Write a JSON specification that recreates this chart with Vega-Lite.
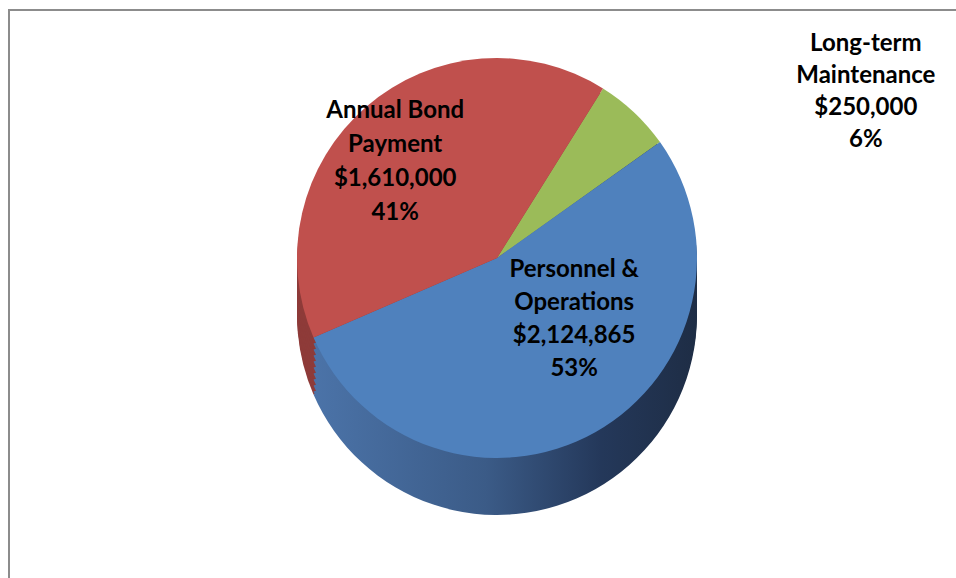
{
  "$schema": "https://vega.github.io/schema/vega-lite/v6.json",
  "width": 976,
  "height": 580,
  "autosize": {"type": "none"},
  "padding": {"left": 9, "top": 10, "right": 0, "bottom": 0},
  "background": "white",
  "config": {"view": {"stroke": null}},
  "datasets": {
    "budget": [
      {"category": "Long-term Maintenance", "amount": 250000, "order": 1, "label": "Long-term\nMaintenance\n$250,000\n6%"},
      {"category": "Personnel & Operations", "amount": 2124865, "order": 2, "label": "Personnel &\nOperations\n$2,124,865\n53%"},
      {"category": "Annual Bond Payment", "amount": 1610000, "order": 3, "label": "Annual Bond\nPayment\n$1,610,000\n41%"}
    ],
    "frame": [{"name": "chart area"}]
  },
  "layer": [
    {
      "data": {"name": "frame"},
      "mark": {"type": "rect", "fill": "white", "stroke": "#8c8c8c", "strokeWidth": 2},
      "encoding": {
        "x": {"value": 0},
        "x2": {"value": "width"},
        "y": {"value": 0},
        "y2": {"value": "height"}
      }
    },
    {
      "data": {"name": "budget"},
      "encoding": {
        "theta": {"field": "amount", "type": "quantitative", "stack": true, "scale": {"range": [0.5585, 6.8417]}},
        "order": {"field": "order", "type": "quantitative"}
      },
      "layer": [
        {"mark": {"type": "arc", "outerRadius": 200, "yOffset": 15}, "encoding": {"fill": {"condition": {"test": "datum.category === 'Annual Bond Payment'", "value": "#8e3b39"}, "value": {"gradient": "linear", "x1": 0, "y1": 0, "x2": 1, "y2": 0, "stops": [{"offset": 0, "color": "#4b73a8"}, {"offset": 0.45, "color": "#3b5b87"}, {"offset": 0.75, "color": "#24385a"}, {"offset": 1, "color": "#1e2d45"}]}}}},
        {"mark": {"type": "arc", "outerRadius": 200, "yOffset": 12}, "encoding": {"fill": {"condition": {"test": "datum.category === 'Annual Bond Payment'", "value": "#8e3b39"}, "value": {"gradient": "linear", "x1": 0, "y1": 0, "x2": 1, "y2": 0, "stops": [{"offset": 0, "color": "#4b73a8"}, {"offset": 0.45, "color": "#3b5b87"}, {"offset": 0.75, "color": "#24385a"}, {"offset": 1, "color": "#1e2d45"}]}}}},
        {"mark": {"type": "arc", "outerRadius": 200, "yOffset": 6}, "encoding": {"fill": {"condition": {"test": "datum.category === 'Annual Bond Payment'", "value": "#8e3b39"}, "value": {"gradient": "linear", "x1": 0, "y1": 0, "x2": 1, "y2": 0, "stops": [{"offset": 0, "color": "#4b73a8"}, {"offset": 0.45, "color": "#3b5b87"}, {"offset": 0.75, "color": "#24385a"}, {"offset": 1, "color": "#1e2d45"}]}}}},
        {"mark": {"type": "arc", "outerRadius": 200, "yOffset": 0}, "encoding": {"fill": {"condition": {"test": "datum.category === 'Annual Bond Payment'", "value": "#8e3b39"}, "value": {"gradient": "linear", "x1": 0, "y1": 0, "x2": 1, "y2": 0, "stops": [{"offset": 0, "color": "#4b73a8"}, {"offset": 0.45, "color": "#3b5b87"}, {"offset": 0.75, "color": "#24385a"}, {"offset": 1, "color": "#1e2d45"}]}}}},
        {"mark": {"type": "arc", "outerRadius": 200, "yOffset": -6}, "encoding": {"fill": {"condition": {"test": "datum.category === 'Annual Bond Payment'", "value": "#8e3b39"}, "value": {"gradient": "linear", "x1": 0, "y1": 0, "x2": 1, "y2": 0, "stops": [{"offset": 0, "color": "#4b73a8"}, {"offset": 0.45, "color": "#3b5b87"}, {"offset": 0.75, "color": "#24385a"}, {"offset": 1, "color": "#1e2d45"}]}}}},
        {"mark": {"type": "arc", "outerRadius": 200, "yOffset": -12}, "encoding": {"fill": {"condition": {"test": "datum.category === 'Annual Bond Payment'", "value": "#8e3b39"}, "value": {"gradient": "linear", "x1": 0, "y1": 0, "x2": 1, "y2": 0, "stops": [{"offset": 0, "color": "#4b73a8"}, {"offset": 0.45, "color": "#3b5b87"}, {"offset": 0.75, "color": "#24385a"}, {"offset": 1, "color": "#1e2d45"}]}}}},
        {"mark": {"type": "arc", "outerRadius": 200, "yOffset": -18}, "encoding": {"fill": {"condition": {"test": "datum.category === 'Annual Bond Payment'", "value": "#8e3b39"}, "value": {"gradient": "linear", "x1": 0, "y1": 0, "x2": 1, "y2": 0, "stops": [{"offset": 0, "color": "#4b73a8"}, {"offset": 0.45, "color": "#3b5b87"}, {"offset": 0.75, "color": "#24385a"}, {"offset": 1, "color": "#1e2d45"}]}}}},
        {"mark": {"type": "arc", "outerRadius": 200, "yOffset": -24}, "encoding": {"fill": {"condition": {"test": "datum.category === 'Annual Bond Payment'", "value": "#8e3b39"}, "value": {"gradient": "linear", "x1": 0, "y1": 0, "x2": 1, "y2": 0, "stops": [{"offset": 0, "color": "#4b73a8"}, {"offset": 0.45, "color": "#3b5b87"}, {"offset": 0.75, "color": "#24385a"}, {"offset": 1, "color": "#1e2d45"}]}}}},
        {"mark": {"type": "arc", "outerRadius": 200, "yOffset": -30}, "encoding": {"fill": {"condition": {"test": "datum.category === 'Annual Bond Payment'", "value": "#8e3b39"}, "value": {"gradient": "linear", "x1": 0, "y1": 0, "x2": 1, "y2": 0, "stops": [{"offset": 0, "color": "#4b73a8"}, {"offset": 0.45, "color": "#3b5b87"}, {"offset": 0.75, "color": "#24385a"}, {"offset": 1, "color": "#1e2d45"}]}}}},
        {"mark": {"type": "arc", "outerRadius": 200, "yOffset": -36}, "encoding": {"fill": {"condition": {"test": "datum.category === 'Annual Bond Payment'", "value": "#8e3b39"}, "value": {"gradient": "linear", "x1": 0, "y1": 0, "x2": 1, "y2": 0, "stops": [{"offset": 0, "color": "#4b73a8"}, {"offset": 0.45, "color": "#3b5b87"}, {"offset": 0.75, "color": "#24385a"}, {"offset": 1, "color": "#1e2d45"}]}}}},
        {
          "mark": {"type": "arc", "outerRadius": 200, "yOffset": -42},
          "encoding": {
            "color": {
              "field": "category",
              "type": "nominal",
              "scale": {"domain": ["Long-term Maintenance", "Personnel & Operations", "Annual Bond Payment"], "range": ["#9bbb59", "#4f81bd", "#c0504d"]},
              "legend": null
            }
          }
        },
        {
          "mark": {"type": "text", "radius": 130, "dx": -17, "dy": -90, "font": "Lato", "fontWeight": "bold", "fontSize": 24, "lineBreak": "\n", "lineHeight": 34, "baseline": "middle", "align": "center", "color": "black"},
          "encoding": {
            "text": {"field": "label"},
            "opacity": {"condition": {"test": "datum.category === 'Annual Bond Payment'", "value": 1}, "value": 0}
          }
        },
        {
          "mark": {"type": "text", "radius": 100, "dx": 28, "dy": -117, "font": "Lato", "fontWeight": "bold", "fontSize": 24, "lineBreak": "\n", "lineHeight": 33, "baseline": "middle", "align": "center", "color": "black"},
          "encoding": {
            "text": {"field": "label"},
            "opacity": {"condition": {"test": "datum.category === 'Personnel & Operations'", "value": 1}, "value": 0}
          }
        },
        {
          "mark": {"type": "text", "radius": 255, "dx": 194, "dy": -70, "font": "Lato", "fontWeight": "bold", "fontSize": 24, "lineBreak": "\n", "lineHeight": 32, "baseline": "middle", "align": "center", "color": "black"},
          "encoding": {
            "text": {"field": "label"},
            "opacity": {"condition": {"test": "datum.category === 'Long-term Maintenance'", "value": 1}, "value": 0}
          }
        }
      ]
    }
  ]
}
